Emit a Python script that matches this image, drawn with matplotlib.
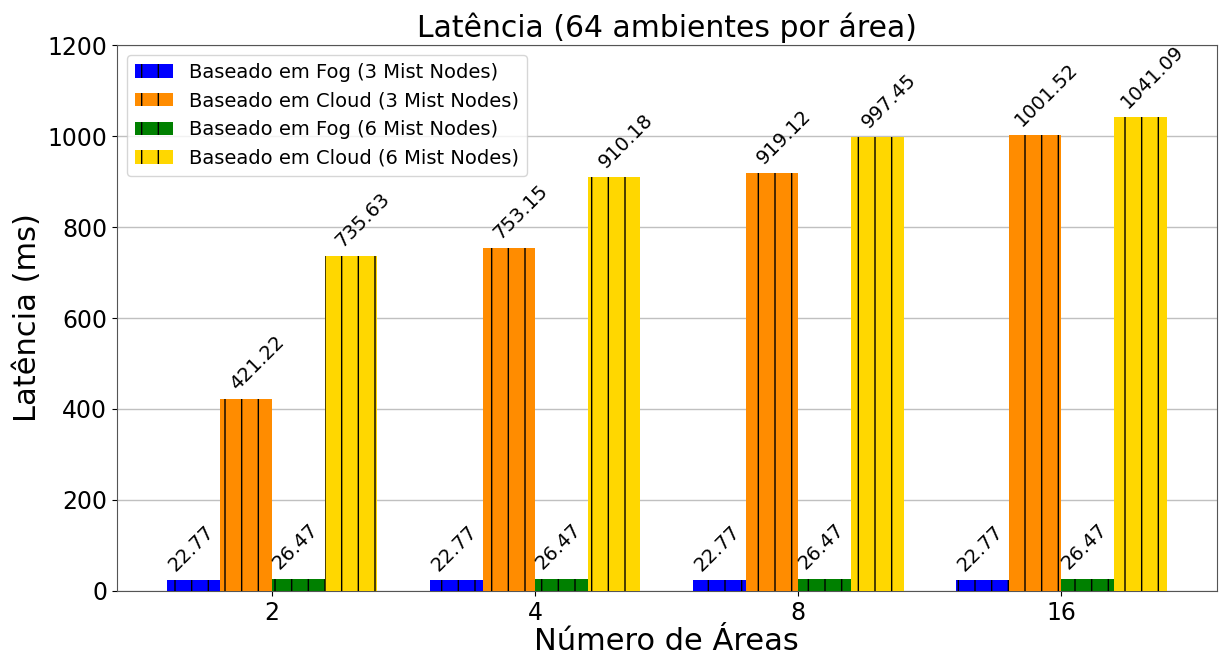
import matplotlib
matplotlib.use('Agg')
import matplotlib.pyplot as plt
import numpy as np

# Latency per number of areas, 64 environments per area
areas = ['2', '4', '8', '16']
series_labels = [
    'Baseado em Fog (3 Mist Nodes)',
    'Baseado em Cloud (3 Mist Nodes)',
    'Baseado em Fog (6 Mist Nodes)',
    'Baseado em Cloud (6 Mist Nodes)',
]
fog_3 = [22.77, 22.77, 22.77, 22.77]
cloud_3 = [421.22, 753.15, 919.12, 1001.52]
fog_6 = [26.47, 26.47, 26.47, 26.47]
cloud_6 = [735.63, 910.18, 997.45, 1041.09]
colors = ['blue', 'darkorange', 'green', 'gold']

series = [fog_3, cloud_3, fog_6, cloud_6]
# horizontal nudge of the value labels (points)
label_dx = [-1.5, 8.5, -2.5, 8.5]

fig, ax = plt.subplots(figsize=(12.19, 6.55), dpi=100)
fig.subplots_adjust(left=0.096, right=0.998, top=0.931, bottom=0.098)

x = np.arange(len(areas))
width = 0.2
for i, (vals, lab, col) in enumerate(zip(series, series_labels, colors)):
    pos = x + (i - 1.5) * width
    ax.bar(pos, vals, width, label=lab, color=col, hatch='|',
           edgecolor='black', linewidth=0, zorder=3)
    for xp, v in zip(pos, vals):
        ax.annotate(f'{v:.2f}', (xp, v), xytext=(label_dx[i], 4),
                    textcoords='offset points', ha='center', va='bottom',
                    rotation=45, fontsize=14, zorder=4)

ax.set_ylim(0, 1200)
ax.set_xticks(x)
ax.set_xticklabels(areas)
ax.tick_params(labelsize=17)
ax.yaxis.grid(True, color='#c0c0c0', linewidth=1, zorder=0)
ax.set_axisbelow(True)
for s in ax.spines.values():
    s.set_color('#555555')

ax.set_title('Latência (64 ambientes por área)', fontsize=21.5)
ax.set_xlabel('Número de Áreas', fontsize=22, labelpad=2)
ax.set_ylabel('Latência (ms)', fontsize=22)
ax.legend(loc='upper left', fontsize=14)

fig.savefig('out.png', dpi=100)
